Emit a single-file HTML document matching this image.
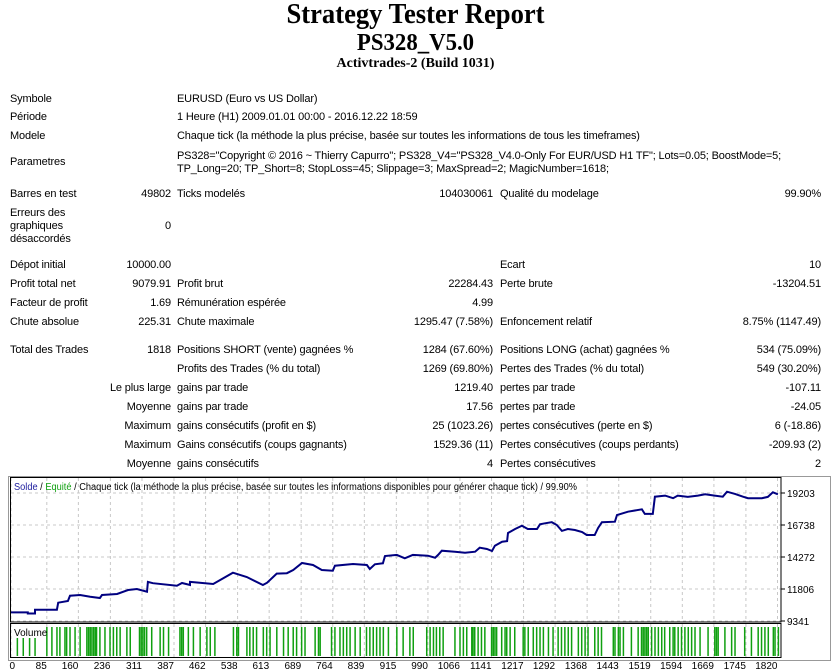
<!DOCTYPE html>
<html><head><meta charset="utf-8">
<style>
body{margin:0;width:831px;height:672px;background:#fff;position:relative;overflow:hidden;font-family:"Liberation Sans",Arial,sans-serif;font-size:11px;color:#000}
.t{position:absolute;white-space:nowrap;letter-spacing:-0.15px;line-height:13px}
.r{text-align:right}
.h{position:absolute;left:0;width:831px;text-align:center;font-family:"Liberation Serif",serif;font-weight:bold;white-space:nowrap}
</style></head><body>
<div class="h" style="top:0px;font-size:28px;line-height:30px;transform:scaleX(0.95)">Strategy Tester Report</div>
<div class="h" style="top:30px;font-size:24px;line-height:26px;transform:scaleX(0.95)">PS328_V5.0</div>
<div class="h" style="top:56px;font-size:14px;line-height:16px">Activtrades-2 (Build 1031)</div>

<div id="rows"></div>

<svg id="chart" width="831" height="672" style="position:absolute;left:0;top:0" xmlns="http://www.w3.org/2000/svg"></svg>

<script>
const R=[
 [99,[["Symbole",10,"l"],["EURUSD (Euro vs US Dollar)",177,"l"]]],
 [117,[["Période",10,"l"],["1 Heure (H1) 2009.01.01 00:00 - 2016.12.22 18:59",177,"l"]]],
 [136,[["Modele",10,"l"],["Chaque tick (la méthode la plus précise, basée sur toutes les informations de tous les timeframes)",177,"l"]]],
 [162,[["Parametres",10,"l"]]],
 [156,[["PS328=\"Copyright © 2016 ~ Thierry Capurro\"; PS328_V4=\"PS328_V4.0-Only For EUR/USD H1 TF\"; Lots=0.05; BoostMode=5;",177,"l"]]],
 [169,[["TP_Long=20; TP_Short=8; StopLoss=45; Slippage=3; MaxSpread=2; MagicNumber=1618;",177,"l"]]],
 [194,[["Barres en test",10,"l"],["49802",171,"r"],["Ticks modelés",177,"l"],["104030061",493,"r"],["Qualité du modelage",500,"l"],["99.90%",821,"r"]]],
 [213,[["Erreurs des",10,"l"]]],[226,[["graphiques",10,"l"],["0",171,"r"]]],[239,[["désaccordés",10,"l"]]],
 [265,[["Dépot initial",10,"l"],["10000.00",171,"r"],["Ecart",500,"l"],["10",821,"r"]]],
 [284,[["Profit total net",10,"l"],["9079.91",171,"r"],["Profit brut",177,"l"],["22284.43",493,"r"],["Perte brute",500,"l"],["-13204.51",821,"r"]]],
 [303,[["Facteur de profit",10,"l"],["1.69",171,"r"],["Rémunération espérée",177,"l"],["4.99",493,"r"]]],
 [322,[["Chute absolue",10,"l"],["225.31",171,"r"],["Chute maximale",177,"l"],["1295.47 (7.58%)",493,"r"],["Enfoncement relatif",500,"l"],["8.75% (1147.49)",821,"r"]]],
 [350,[["Total des Trades",10,"l"],["1818",171,"r"],["Positions SHORT (vente) gagnées %",177,"l"],["1284 (67.60%)",493,"r"],["Positions LONG (achat) gagnées %",500,"l"],["534 (75.09%)",821,"r"]]],
 [369,[["Profits des Trades (% du total)",177,"l"],["1269 (69.80%)",493,"r"],["Pertes des Trades (% du total)",500,"l"],["549 (30.20%)",821,"r"]]],
 [388,[["Le plus large",171,"r"],["gains par trade",177,"l"],["1219.40",493,"r"],["pertes par trade",500,"l"],["-107.11",821,"r"]]],
 [407,[["Moyenne",171,"r"],["gains par trade",177,"l"],["17.56",493,"r"],["pertes par trade",500,"l"],["-24.05",821,"r"]]],
 [426,[["Maximum",171,"r"],["gains consécutifs (profit en $)",177,"l"],["25 (1023.26)",493,"r"],["pertes consécutives (perte en $)",500,"l"],["6 (-18.86)",821,"r"]]],
 [445,[["Maximum",171,"r"],["Gains consécutifs (coups gagnants)",177,"l"],["1529.36 (11)",493,"r"],["Pertes consécutives (coups perdants)",500,"l"],["-209.93 (2)",821,"r"]]],
 [464,[["Moyenne",171,"r"],["gains consécutifs",177,"l"],["4",493,"r"],["Pertes consécutives",500,"l"],["2",821,"r"]]]
];
const rows=document.getElementById('rows');
R.forEach(([y,cells])=>cells.forEach(([txt,x,al])=>{
  const d=document.createElement('div');
  
  
  d.className='t'+(al==='r'?' r':'');
  d.textContent=txt;
  d.style.top=(y-6)+'px';
  if(al==='r'){d.style.right=(831-x)+'px';}else{d.style.left=x+'px';}
  rows.appendChild(d);
}));
</script>
<script>
const tradeIdx=[0,40,40,57,57,109,112,135,140,164,188,211,216,252,278,299,323,325,337,394,406,425,425,480,527,560,598,608,631,655,670,691,717,738,764,769,812,845,852,864,883,888,916,935,954,990,1007,1014,1023,1054,1078,1102,1113,1130,1142,1149,1166,1178,1180,1197,1213,1227,1249,1256,1268,1284,1296,1308,1322,1339,1356,1367,1386,1394,1403,1434,1439,1465,1498,1505,1524,1529,1553,1572,1583,1607,1631,1648,1671,1690,1700,1719,1738,1750,1783,1797,1809,1821];
const balance=[10000,10000,9920,9920,10210,10210,10750,10880,11290,11345,11215,11110,11345,11420,11730,11810,11600,12350,12250,12060,12270,12115,12350,12190,13060,12730,12115,12290,12990,13020,13270,13810,13655,13270,13220,13600,13730,13655,13350,13710,13790,14350,14430,14170,14430,14370,14220,14430,14760,14680,14600,14680,14990,14890,14735,15140,15450,15500,16120,16430,16685,16430,16430,16790,16870,16950,16740,16280,16430,16350,16200,15970,15970,16510,16950,16990,17510,17760,17950,17590,17590,18920,19000,18800,19000,18900,19000,19105,19000,18920,19300,19130,18920,18800,18800,18900,19260,19105];
const yTicks=[9341,11806,14272,16738,19203];
const xTicks=[0,85,160,236,311,387,462,538,613,689,764,839,915,990,1066,1141,1217,1292,1368,1443,1519,1594,1669,1745,1820];
const volumeTrades=[15,29,44,57,85,97,109,116,128,132,140,152,164,180,184,188,192,196,200,203,211,223,235,243,251,259,275,283,305,309,313,317,322,334,354,362,374,401,405,409,421,433,449,465,473,484,528,536,540,560,567,575,583,599,607,615,631,647,658,670,678,690,698,722,730,734,761,769,781,789,797,805,817,829,844,852,860,868,876,884,896,916,931,947,955,987,995,1003,1010,1018,1026,1054,1066,1074,1082,1094,1097,1101,1109,1117,1125,1141,1145,1149,1153,1165,1173,1177,1185,1196,1216,1220,1228,1240,1248,1256,1264,1276,1287,1299,1307,1315,1323,1331,1347,1355,1363,1370,1386,1394,1402,1430,1434,1442,1446,1454,1473,1489,1497,1501,1505,1509,1513,1521,1529,1537,1545,1552,1564,1572,1576,1584,1592,1600,1608,1616,1624,1636,1655,1671,1675,1679,1695,1711,1719,1742,1758,1774,1782,1790,1798,1810,1814,1822];

const L=11,Rr=781,T=478,B=621,XMAX=1820,XW=766.5;
const xs=t=>L+t*XW/XMAX;
const ys=v=>B-(v-9341)*(B-493)/(19203-9341);
const svg=document.getElementById('chart');
const NS='http://www.w3.org/2000/svg';
function mk(tag,at){const e=document.createElementNS(NS,tag);for(const k in at)e.setAttribute(k,at[k]);svg.appendChild(e);return e;}
const FF='Liberation Sans, sans-serif';
let e;
e=mk('rect',{x:8.5,y:476.5,width:822,height:184,fill:'none',stroke:'#999','stroke-width':1});

xTicks.forEach(t=>{
  e=mk('line',{x1:xs(t),x2:xs(t),y1:T,y2:B,stroke:'#c8c8c8','stroke-dasharray':'3,3'});
  
  e=mk('line',{x1:xs(t),x2:xs(t),y1:624,y2:657,stroke:'#c8c8c8','stroke-dasharray':'3,3'});
  
  e=mk('text',{x:t===0?15:xs(t),y:669,'text-anchor':'end','font-size':'10','font-family':FF});
  e.textContent=t;
  
});
yTicks.forEach(v=>{
  e=mk('line',{x1:L,x2:Rr,y1:ys(v),y2:ys(v),stroke:'#c8c8c8','stroke-dasharray':'3,3'});
  
  e=mk('line',{x1:Rr,x2:Rr+4,y1:ys(v),y2:ys(v),stroke:'#000'});
  
  e=mk('text',{x:787,y:ys(v)+4,'font-size':'10','font-family':FF});
  e.textContent=v;
  
});
e=mk('rect',{x:10.5,y:477.5,width:Rr-10.5,height:B-477+0.5,fill:'none',stroke:'#000','stroke-width':1});

e=mk('rect',{x:10.5,y:623.5,width:Rr-10.5,height:34,fill:'none',stroke:'#000','stroke-width':1});

e=mk('polyline',{points:tradeIdx.map((t,i)=>xs(t).toFixed(1)+','+ys(balance[i]).toFixed(1)).join(' '),fill:'none',stroke:'#000080','stroke-width':2});

volumeTrades.forEach(t=>{
  const top=t<70?638:627;
  e=mk('rect',{x:xs(t)-0.7,y:top,width:1.5,height:656-top,fill:'#10a010'});
  
});
e=mk('text',{x:14,y:636,'font-size':'10','font-family':FF});e.textContent='Volume';

e=mk('text',{x:14,y:490,'font-size':'10','font-family':FF,textLength:563,lengthAdjust:'spacingAndGlyphs'});
e.innerHTML='<tspan fill="#2020a0">Solde</tspan> / <tspan fill="#10a010">Equité</tspan> / Chaque tick (la méthode la plus précise, basée sur toutes les informations disponibles pour générer chaque tick) / 99.90%';

</script>
</body></html>
